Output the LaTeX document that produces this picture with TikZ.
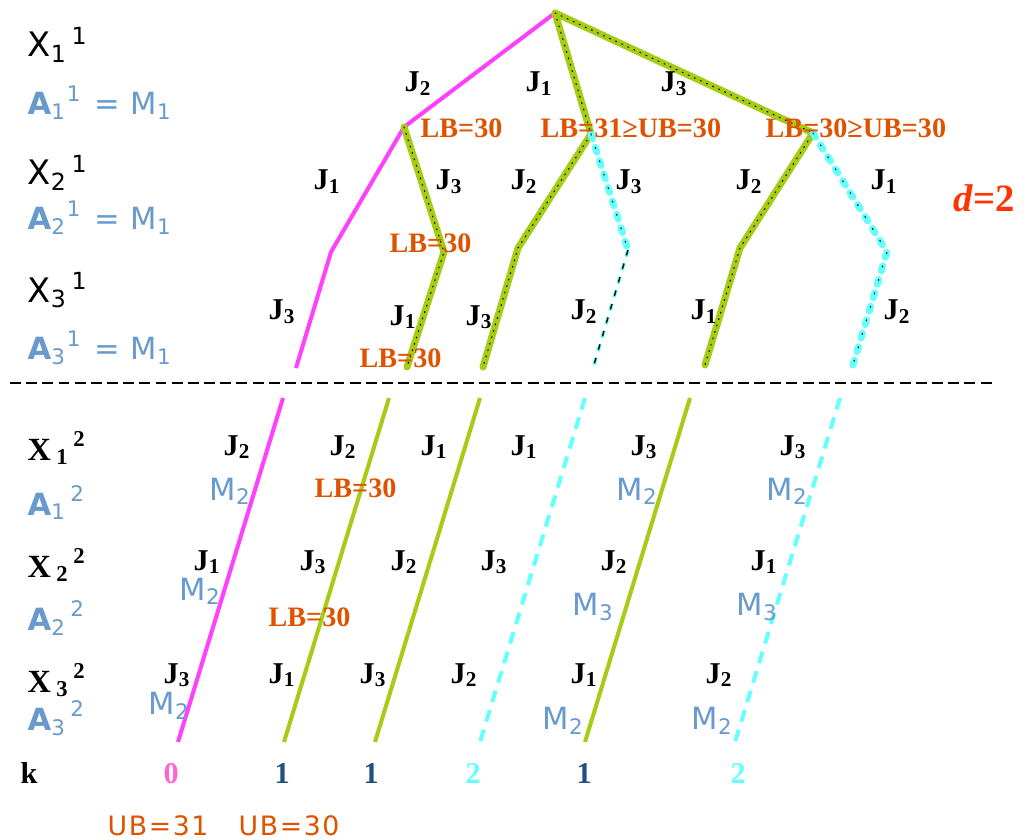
\documentclass[tikz,border=0pt]{standalone}
\usepackage{fontspec}
\setmainfont{Liberation Serif}
\newfontfamily\sansf{DejaVu Sans}
\newfontfamily\ubfont[LetterSpace=6]{DejaVu Sans}
\definecolor{pinkc}{RGB}{255,64,255}
\definecolor{grnc}{RGB}{166,204,22}
\definecolor{cync}{RGB}{100,255,255}
\definecolor{orgc}{RGB}{222,82,0}
\definecolor{bluc}{RGB}{104,154,206}
\definecolor{dblc}{RGB}{33,80,128}
\definecolor{redc}{RGB}{255,52,0}
\definecolor{kpink}{RGB}{255,100,210}
\newcommand{\Jn}[1]{J\textsubscript{#1}}
\newcommand{\Mn}[1]{M\textsubscript{#1}}
\newcommand{\jsize}{\fontsize{8.6}{10}\selectfont}

\begin{document}
\begin{tikzpicture}[x=0.01cm,y=-0.01cm,
 lab/.style={inner sep=0pt,anchor=base west},
 jlab/.style={lab,font=\jsize\bfseries},
 lblab/.style={lab,text=orgc,font=\fontsize{8}{10}\selectfont\bfseries},
 xlab/.style={lab,font=\fontsize{9.6}{11}\selectfont\sansf},
 alab/.style={lab,text=bluc,font=\fontsize{8.7}{10}\selectfont\sansf},
 klab/.style={lab,font=\jsize\bfseries},
 pinkpath/.style={draw=pinkc,line width=1.15pt,line join=round},
 grnpath/.style={draw=grnc,line width=2pt,line cap=round,line join=round,
   postaction={draw=black,line width=0.3pt,dash pattern=on 0.3pt off 1.6pt}},
 cynpath/.style={draw=cync,line width=2pt,line cap=round,dash pattern=on 1.4pt off 2.6pt,
   postaction={draw=black,line width=0.3pt,dash pattern=on 0.3pt off 3.7pt}},
 cynthin/.style={draw=cync,line width=1pt,dash pattern=on 2pt off 2pt,
   postaction={draw=black,line width=0.4pt,dash pattern=on 1.6pt off 2.4pt}},
 lowgrn/.style={draw=grnc,line width=1.15pt},
 lowpink/.style={draw=pinkc,line width=1.15pt},
 lowcyn/.style={draw=cync,line width=1.15pt,dash pattern=on 3.4pt off 2.4pt}]
 \useasboundingbox (0,0) rectangle (1028,840);
 % search tree, first stage
 \coordinate (r) at (555,13);
 \coordinate (a) at (404,127); \coordinate (a1) at (331,252); \coordinate (a2) at (296,368);
 \coordinate (a3) at (444,252); \coordinate (a4) at (407,367);
 \coordinate (b) at (591,134); \coordinate (b1) at (518,248); \coordinate (b2) at (483,367);
 \coordinate (b3) at (628,250); \coordinate (b4) at (593,368);
 \coordinate (c) at (813,133); \coordinate (c1) at (740,248); \coordinate (c2) at (705,365);
 \coordinate (c3) at (887,252); \coordinate (c4) at (852,368);
 \draw[pinkpath] (r)--(a)--(a1)--(a2);
 \draw[grnpath] (a)--(a3)--(a4);
 \draw[grnpath] (r)--(b)--(b1)--(b2);
 \draw[grnpath] (r)--(c)--(c1)--(c2);
 \draw[cynpath] (b)--(b3);
 \draw[cynthin] (b3)--(b4);
 \draw[cynpath] (c)--(c3)--(c4);
 % stage divider
 \coordinate (s0) at (10,383); \coordinate (s1) at (992,383);
 \draw[line width=0.6pt,dash pattern=on 3.1pt off 1.5pt] (s0)--(s1);
 % second stage sequences
 \foreach \n/\xa/\xb/\st in {p/283/178/lowpink,g1/389/284/lowgrn,g2/480/375/lowgrn,
   q1/585/480/lowcyn,g3/690/585/lowgrn,q2/840/735/lowcyn}{
  \coordinate (\n t) at (\xa,398); \coordinate (\n b) at (\xb,742);
  \draw[\st] (\n t)--(\n b);}
 % left labels
 \node[xlab] (x11) at (27,57) {X\textsubscript{1}\textsuperscript{\,1}};
 \node[alab] (a11) at (27,115) {\textbf{A}\textsubscript{1}\textsuperscript{1}\hspace{3.5pt}=\hspace{3pt}\Mn{1}};
 \node[xlab] (x21) at (27,185) {X\textsubscript{2}\textsuperscript{\,1}};
 \node[alab] (a21) at (27,230) {\textbf{A}\textsubscript{2}\textsuperscript{1}\hspace{3.5pt}=\hspace{3pt}\Mn{1}};
 \node[xlab] (x31) at (27,302) {X\textsubscript{3}\textsuperscript{\,1}};
 \node[alab] (a31) at (27,360) {\textbf{A}\textsubscript{3}\textsuperscript{1}\hspace{3.5pt}=\hspace{3pt}\Mn{1}};
 \node[jlab,font=\fontsize{9.2}{11}\selectfont\bfseries] (x12) at (27,460) {X\,\textsubscript{1}\textsuperscript{\,2}};
 \node[alab] (a12) at (27,515) {\textbf{A}\textsubscript{1}\textsuperscript{\,2}};
 \node[jlab,font=\fontsize{9.2}{11}\selectfont\bfseries] (x22) at (27,577) {X\,\textsubscript{2}\textsuperscript{\,2}};
 \node[alab] (a22) at (27,630) {\textbf{A}\textsubscript{2}\textsuperscript{\,2}};
 \node[jlab,font=\fontsize{9.2}{11}\selectfont\bfseries] (x32) at (27,692) {X\,\textsubscript{3}\textsuperscript{\,2}};
 \node[alab] (a32) at (27,730) {\textbf{A}\textsubscript{3}\textsuperscript{\,2}};
 % job labels
 \foreach \n/\x/\y/\i in {t1/404/92/2,t2/525/92/1,t3/660/92/3,
   t4/313/190/1,t5/435/190/3,t6/510/190/2,t7/615/190/3,t8/735/190/2,t9/870/190/1,
   t10/268/320/3,t11/389/325/1,t12/465/325/3,t13/570/320/2,t14/690/320/1,t15/883/320/2,
   u1/223/455/2,u2/329/455/2,u3/420/455/1,u4/510/455/1,u5/630/455/3,u6/779/455/3,
   u7/193/570/1,u8/299/570/3,u9/390/570/2,u10/480/570/3,u11/600/570/2,u12/750/570/1,
   u13/163/683/3,u14/268/683/1,u15/359/683/3,u16/450/683/2,u17/570/683/1,u18/705/683/2}
  {\node[jlab] (\n) at (\x,\y) {\Jn{\i}};}
 % machines
 \foreach \n/\x/\y/\i in {m1/209/500/2,m2/179/600/2,m3/148/714/2,m4/616/500/2,m5/766/500/2,
   m6/572/615/3,m7/736/615/3,m8/542/729/2,m9/691/729/2}
  {\node[alab] (\n) at (\x,\y) {\Mn{\i}};}
 % bounds
 \node[lblab] (lb1) at (420,138) {LB=30};
 \node[lblab] (lb2) at (540,138) {LB=31≥UB=30};
 \node[lblab] (lb3) at (765,138) {LB=30≥UB=30};
 \node[lblab] (lb4) at (389,253) {LB=30};
 \node[lblab] (lb5) at (359,367) {LB=30};
 \node[lblab] (lb6) at (314,497) {LB=30};
 \node[lblab] (lb7) at (268,626) {LB=30};
 \node[lab,text=redc,font=\fontsize{11}{13}\selectfont\bfseries] (d) at (953,212) {\textit{d}=2};
 % k row
 \node[klab] (k) at (20,783) {k};
 \node[klab,text=kpink] (k0) at (163,783) {0};
 \node[klab,text=dblc] (k1) at (274,783) {1};
 \node[klab,text=dblc] (k2) at (363,783) {1};
 \node[klab,text=cync] (k3) at (465,783) {2};
 \node[klab,text=dblc] (k4) at (576,783) {1};
 \node[klab,text=cync] (k5) at (730,783) {2};
 \node[lab,text=orgc,font=\fontsize{7.6}{9}\selectfont\ubfont] (ub1) at (107,835) {UB=31};
 \node[lab,text=orgc,font=\fontsize{7.6}{9}\selectfont\ubfont] (ub2) at (238,835) {UB=30};
\end{tikzpicture}
\end{document}
